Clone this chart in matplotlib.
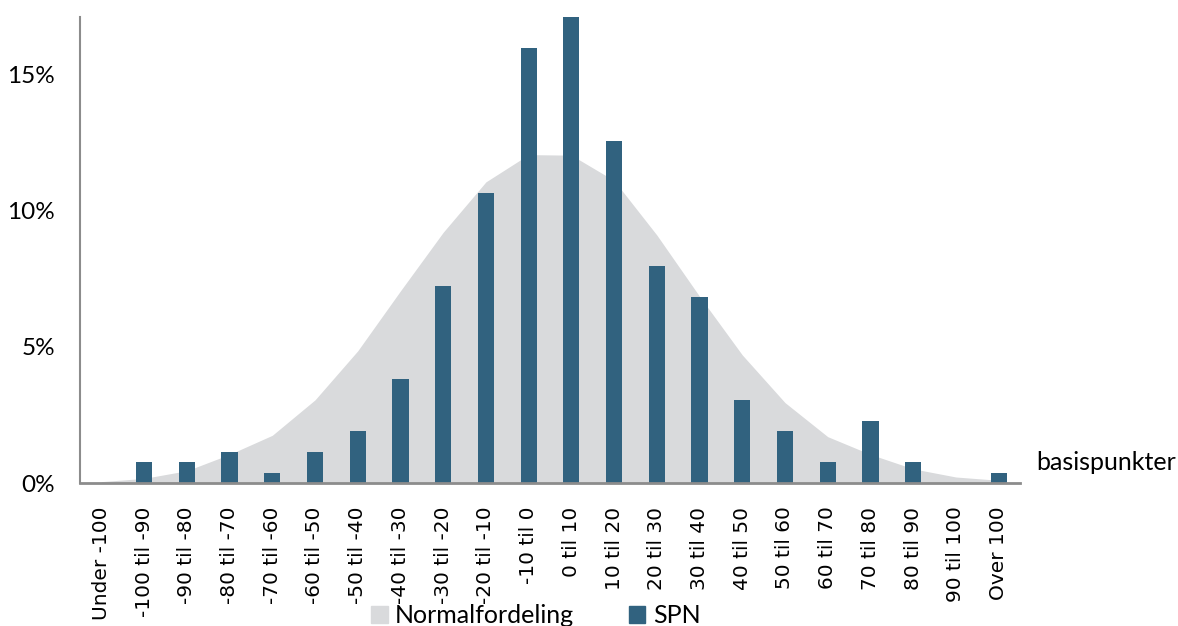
import matplotlib.pyplot as plt
import numpy as np
from matplotlib.patches import Patch

# intervaller i basispunkter
categories = ["Under -100", "-100 til -90", "-90 til -80", "-80 til -70", "-70 til -60",
              "-60 til -50", "-50 til -40", "-40 til -30", "-30 til -20", "-20 til -10",
              "-10 til 0", "0 til 10", "10 til 20", "20 til 30", "30 til 40",
              "40 til 50", "50 til 60", "60 til 70", "70 til 80", "80 til 90",
              "90 til 100", "Over 100"]

spn = [0.0, 0.76, 0.76, 1.14, 0.38, 1.14, 1.9, 3.8, 7.22, 10.64, 15.96, 17.1,
       12.54, 7.98, 6.84, 3.04, 1.9, 0.76, 2.28, 0.76, 0.0, 0.38]

normal = [0.05, 0.17, 0.45, 1.05, 1.75, 3.05, 4.85, 7.05, 9.2, 11.05, 12.05, 12.03,
          11.1, 9.1, 6.85, 4.7, 2.95, 1.7, 1.05, 0.52, 0.22, 0.1]

yticks = [0, 5, 10, 15]
ytick_labels = ["0%", "5%", "10%", "15%"]

bar_col = "#31627f"
area_col = "#d9dadc"
axis_col = "#8c8c8c"

fig = plt.figure(figsize=(11.78, 6.26), dpi=100)
ax = fig.add_axes([80/1178, 1-483/626, 940/1178, 466/626])

x = np.arange(len(categories))
ax.fill_between(x, 0, normal, color=area_col, lw=0, zorder=1)
ax.bar(x, spn, width=0.38, color=bar_col, zorder=2)

ax.set_xlim(-0.5, len(categories) - 0.5)
ax.set_ylim(0, 17.1)

ax.set_yticks(yticks)
ax.set_yticklabels(ytick_labels, fontsize=17.5, family="Lato")
ax.set_xticks(x)
ax.set_xticklabels(categories, rotation=90, fontsize=14.5, family="DejaVu Sans")
ax.tick_params(axis="both", length=0)
ax.tick_params(axis="x", pad=17)
ax.tick_params(axis="y", pad=18)

for s in ["top", "right"]:
    ax.spines[s].set_visible(False)
ax.spines["left"].set_color(axis_col)
ax.spines["bottom"].set_color(axis_col)
ax.spines["left"].set_linewidth(1.5)
ax.spines["bottom"].set_linewidth(2)

ax.text(1.017, 0.02, "basispunkter", transform=ax.transAxes, fontsize=18,
        family="Lato", va="bottom", ha="left")

handles = [Patch(color=area_col, label="Normalfordeling"),
           Patch(color=bar_col, label="SPN")]
fig.legend(handles=handles, loc="center", bbox_to_anchor=(0.455, 0.016), ncol=2,
           frameon=False, prop={"family": "Lato", "size": 18},
           handlelength=0.65, handleheight=0.65, handletextpad=0.3, columnspacing=2.2)

fig.savefig("out.png", dpi=100)
